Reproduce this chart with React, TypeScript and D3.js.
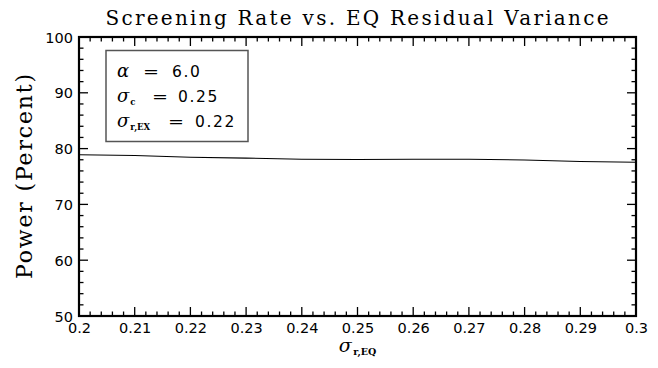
import React, { useEffect, useRef } from "react";
import * as d3 from "d3";

const xValues = [0.2, 0.21, 0.22, 0.23, 0.24, 0.25, 0.26, 0.27, 0.28, 0.29, 0.3];
const powerValues = [78.9, 78.75, 78.45, 78.3, 78.1, 78.05, 78.1, 78.1, 77.95, 77.7, 77.55];
const xTickLabels = ["0.2", "0.21", "0.22", "0.23", "0.24", "0.25", "0.26", "0.27", "0.28", "0.29", "0.3"];
const yTickValues = [50, 60, 70, 80, 90, 100];
const titleText = "Screening Rate vs. EQ Residual Variance";
const yLabelText = "Power (Percent)";

const W = 658;
const H = 368;
const M = { left: 79, right: 636, top: 37, bottom: 316 };

export default function App() {
  const ref = useRef<SVGSVGElement | null>(null);

  useEffect(() => {
    const svg = d3.select(ref.current);
    svg.selectAll("*").remove();

    const x = d3.scaleLinear().domain([0.2, 0.3]).range([M.left, M.right]);
    const y = d3.scaleLinear().domain([50, 100]).range([M.bottom, M.top]);

    svg.append("rect").attr("width", W).attr("height", H).attr("fill", "#fff");

    const majorX = d3.range(0, 11).map((i) => 0.2 + i * 0.01);
    const minorX = d3.range(0, 51).map((i) => 0.2 + i * 0.002).filter((_, i) => i % 5 !== 0);
    const majorY = yTickValues;
    const minorY = d3.range(50, 101, 2).filter((v) => v % 10 !== 0);

    const g = svg.append("g").attr("stroke", "#000").attr("stroke-width", 1.3);
    [...majorX.map((v) => [v, 9]), ...minorX.map((v) => [v, 4.5])].forEach(([v, len]) => {
      const px = x(v as number);
      g.append("line").attr("x1", px).attr("x2", px).attr("y1", M.bottom).attr("y2", M.bottom - (len as number));
      g.append("line").attr("x1", px).attr("x2", px).attr("y1", M.top).attr("y2", M.top + (len as number));
    });
    [...majorY.map((v) => [v, 9]), ...minorY.map((v) => [v, 4.5])].forEach(([v, len]) => {
      const py = y(v as number);
      g.append("line").attr("y1", py).attr("y2", py).attr("x1", M.left).attr("x2", M.left + (len as number));
      g.append("line").attr("y1", py).attr("y2", py).attr("x1", M.right).attr("x2", M.right - (len as number));
    });

    svg.append("rect")
      .attr("x", M.left).attr("y", M.top)
      .attr("width", M.right - M.left).attr("height", M.bottom - M.top)
      .attr("fill", "none").attr("stroke", "#000").attr("stroke-width", 2.2);

    const line = d3.line<number>().x((_, i) => x(xValues[i])).y((d) => y(d));
    svg.append("path").attr("d", line(powerValues) as string)
      .attr("fill", "none").attr("stroke", "#000").attr("stroke-width", 1.1);

    const sans = "DejaVu Sans, Verdana, sans-serif";
    const serif = "DejaVu Serif, serif";

    xTickLabels.forEach((t, i) => {
      svg.append("text").attr("x", x(majorX[i]) + 0.5).attr("y", 332.5)
        .attr("text-anchor", "middle")
        .attr("font-family", sans)
        .attr("font-size", 14.5)
        .text(t);
    });
    majorY.forEach((v) => {
      svg.append("text").attr("x", 73).attr("y", y(v) + 5.5)
        .attr("text-anchor", "end")
        .attr("font-family", sans)
        .attr("font-size", 14.5)
        .text(String(v));
    });

    svg.append("text").attr("x", 357).attr("y", 25)
      .attr("text-anchor", "middle")
      .attr("font-family", serif)
      .attr("font-size", 20)
      .attr("textLength", 503).attr("lengthAdjust", "spacing")
      .text(titleText);

    svg.append("text")
      .attr("transform", `translate(32,${(M.top + M.bottom) / 2}) rotate(-90)`)
      .attr("text-anchor", "middle")
      .attr("font-family", serif)
      .attr("font-size", 22)
      .attr("textLength", 205).attr("lengthAdjust", "spacing")
      .text(yLabelText);

    const xl = svg.append("text").attr("x", (M.left + M.right) / 2).attr("y", 352)
      .attr("text-anchor", "middle")
      .attr("font-family", serif);
    xl.append("tspan").attr("font-size", 19).attr("font-style", "italic").text("σ");
    xl.append("tspan").attr("font-size", 9.5).attr("font-weight", "bold").attr("dy", 3).attr("dx", 1.5)
      .text("r,EQ");

    svg.append("rect").attr("x", 106).attr("y", 50.5).attr("width", 142).attr("height", 91)
      .attr("fill", "#fff").attr("stroke", "#555").attr("stroke-width", 1.5);

    const rows = [
      { sym: "α", sub: "", eqX: 143, valX: 172, val: "6.0", base: 76.5 },
      { sym: "σ", sub: "c", eqX: 152, valX: 178, val: "0.25", base: 101.5 },
      { sym: "σ", sub: "r,EX", eqX: 168, valX: 195, val: "0.22", base: 126.5 },
    ];
    rows.forEach((r) => {
      const t = svg.append("text").attr("x", 117).attr("y", r.base).attr("font-family", serif);
      t.append("tspan").attr("font-size", 18).attr("font-style", "italic").text(r.sym);
      if (r.sub) {
        t.append("tspan").attr("font-size", 8.5).attr("font-weight", "bold").attr("dy", 3).attr("dx", 1)
          .text(r.sub);
      }
      svg.append("text").attr("x", r.eqX).attr("y", r.base).attr("font-family", sans)
        .attr("font-size", 16).attr("textLength", 16).attr("lengthAdjust", "spacingAndGlyphs").text("=");
      svg.append("text").attr("x", r.valX).attr("y", r.base).attr("font-family", sans)
        .attr("font-size", 15.5).attr("letter-spacing", 1.6).text(r.val);
    });
  }, []);

  return (
    <svg ref={ref} width={W} height={H} style={{ position: "absolute", left: 0, top: 0 }} />
  );
}
